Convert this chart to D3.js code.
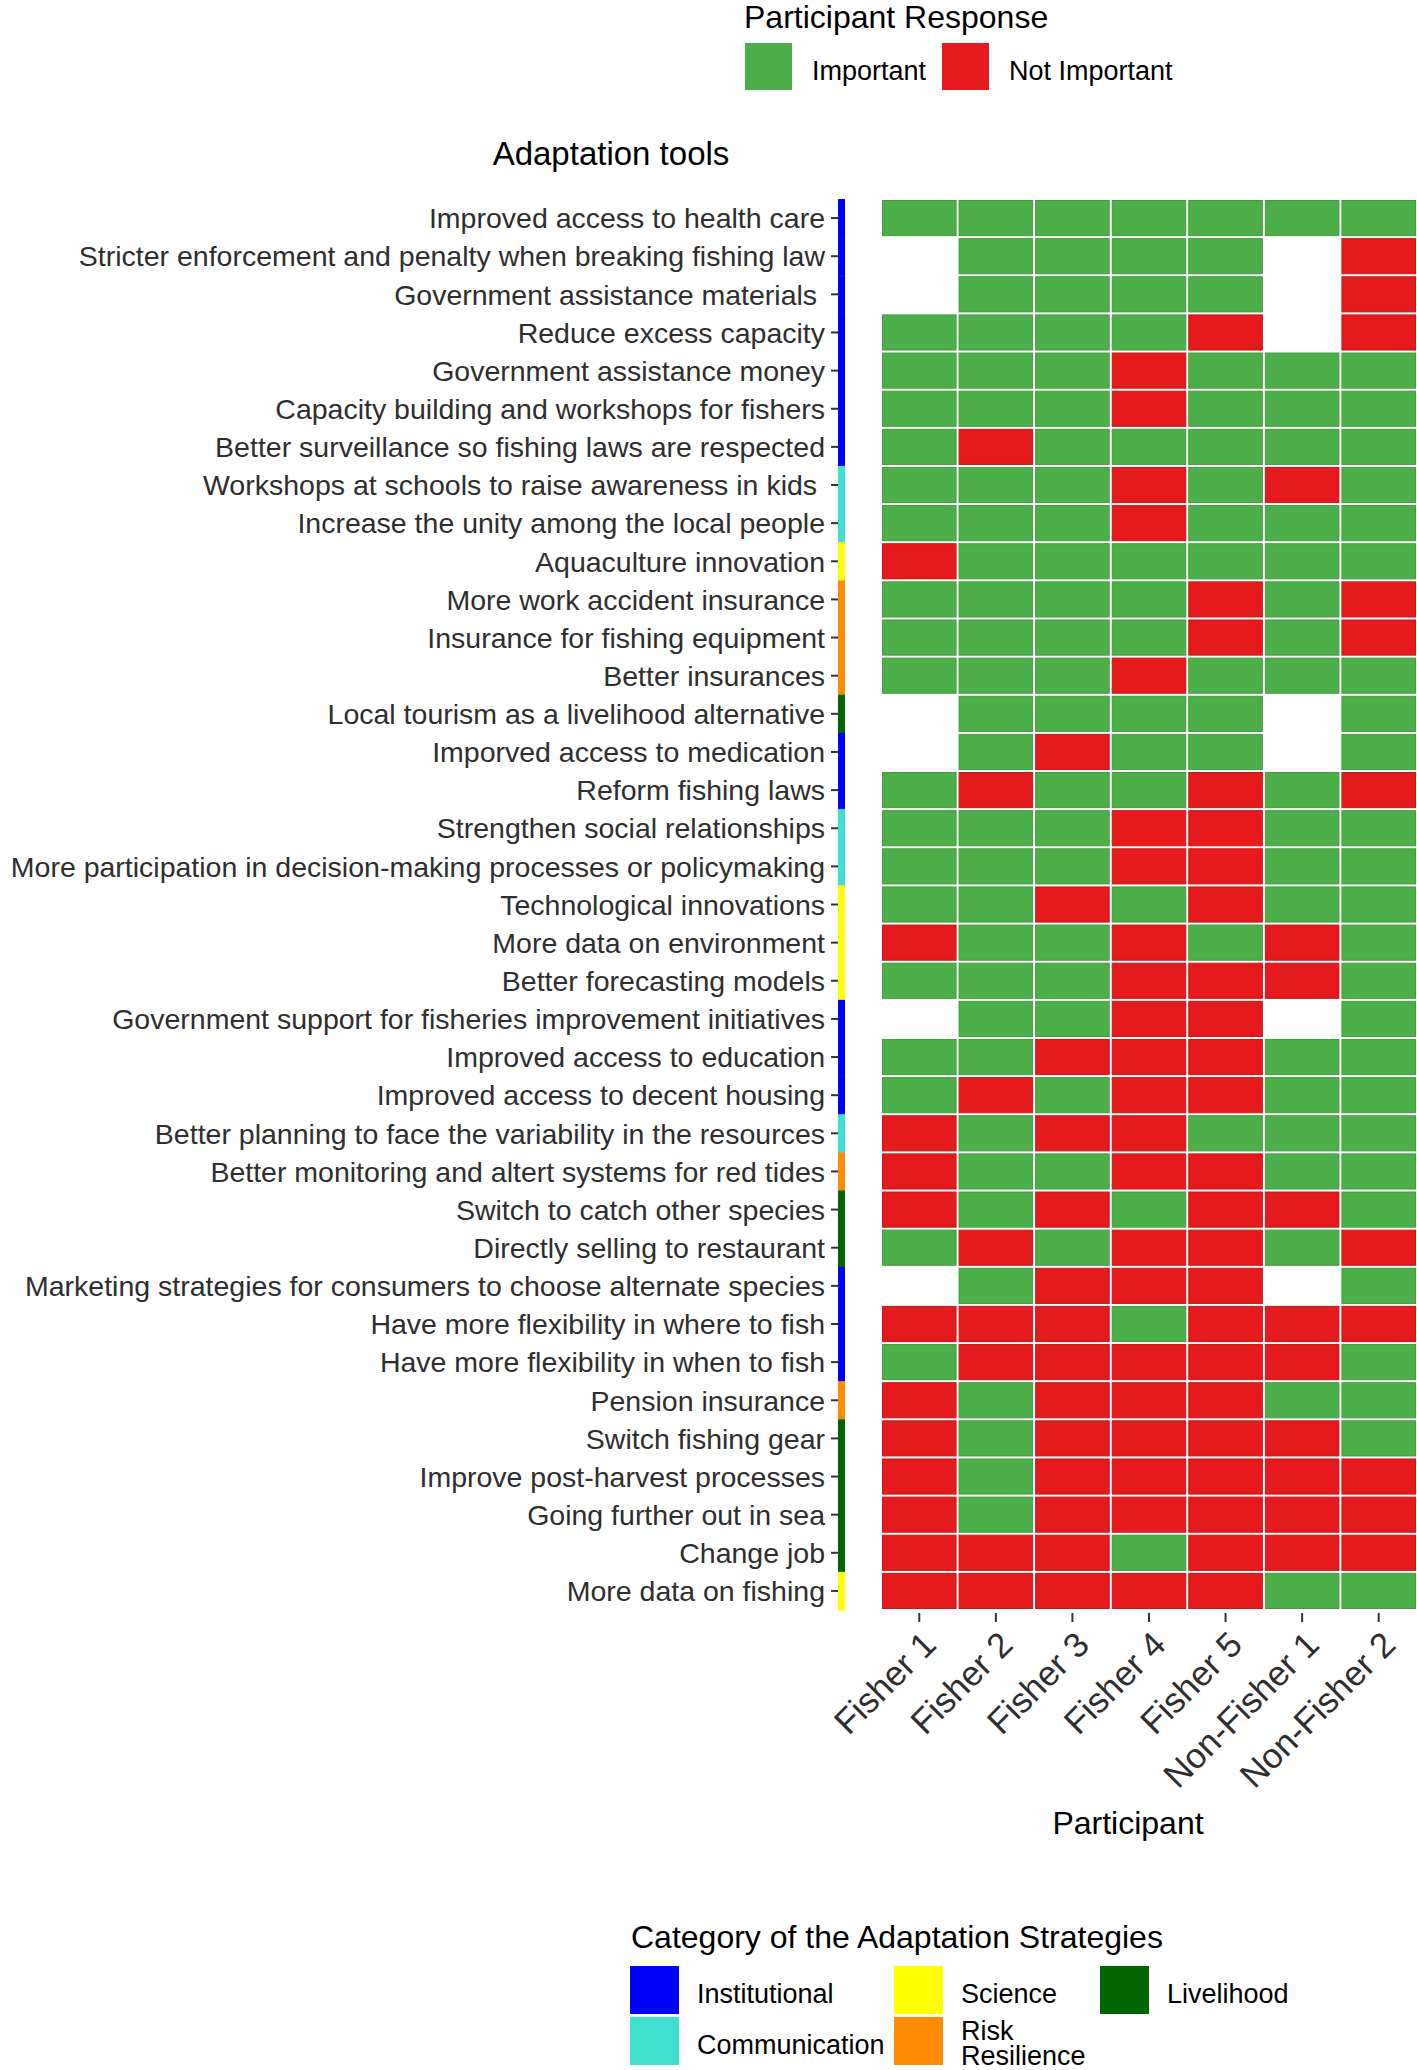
<!DOCTYPE html>
<html>
<head>
<meta charset="utf-8">
<script src="https://cdn.jsdelivr.net/npm/d3@7"></script>
<style>
  body { margin: 0; background: #fff; }
  svg { font-family: "Liberation Sans", Arial, sans-serif; }
</style>
</head>
<body>
<div id="chart"></div>
<script>
// participants (x axis)
const participants = ["Fisher 1", "Fisher 2", "Fisher 3", "Fisher 4", "Fisher 5", "Non-Fisher 1", "Non-Fisher 2"];

// adaptation tools (y axis, top to bottom)
const tools = [
    "Improved access to health care",
    "Stricter enforcement and penalty when breaking fishing law",
    "Government assistance materials ",
    "Reduce excess capacity",
    "Government assistance money",
    "Capacity building and workshops for fishers",
    "Better surveillance so fishing laws are respected",
    "Workshops at schools to raise awareness in kids ",
    "Increase the unity among the local people",
    "Aquaculture innovation",
    "More work accident insurance",
    "Insurance for fishing equipment",
    "Better insurances",
    "Local tourism as a livelihood alternative",
    "Imporved access to medication",
    "Reform fishing laws",
    "Strengthen social relationships",
    "More participation in decision-making processes or policymaking",
    "Technological innovations",
    "More data on environment",
    "Better forecasting models",
    "Government support for fisheries improvement initiatives",
    "Improved access to education",
    "Improved access to decent housing",
    "Better planning to face the variability in the resources",
    "Better monitoring and altert systems for red tides",
    "Switch to catch other species",
    "Directly selling to restaurant",
    "Marketing strategies for consumers to choose alternate species",
    "Have more flexibility in where to fish",
    "Have more flexibility in when to fish",
    "Pension insurance",
    "Switch fishing gear",
    "Improve post-harvest processes",
    "Going further out in sea",
    "Change job",
    "More data on fishing"
];

// category of each tool (same order as tools)
const toolCategory = [
    "Institutional", "Institutional", "Institutional", "Institutional", "Institutional", "Institutional", "Institutional",
    "Communication", "Communication",
    "Science",
    "Risk Resilience", "Risk Resilience", "Risk Resilience",
    "Livelihood",
    "Institutional", "Institutional",
    "Communication", "Communication",
    "Science", "Science", "Science",
    "Institutional", "Institutional", "Institutional",
    "Communication",
    "Risk Resilience",
    "Livelihood", "Livelihood",
    "Institutional", "Institutional", "Institutional",
    "Risk Resilience",
    "Livelihood", "Livelihood", "Livelihood", "Livelihood",
    "Science"
];

const categories = ["Institutional", "Communication", "Science", "Risk Resilience", "Livelihood"];
const categoryColors = ["#0000FF", "#40E0D0", "#FFFF00", "#FF8C00", "#006400"];

const responseLevels = ["Important", "Not Important"];
const responseColors = ["#4DAF4A", "#E41A1C"];

// I = Important, N = Not Important, null = no answer
const I = "Important", N = "Not Important", _ = null;
const responses = [
    [I, I, I, I, I, I, I],
    [_, I, I, I, I, _, N],
    [_, I, I, I, I, _, N],
    [I, I, I, I, N, _, N],
    [I, I, I, N, I, I, I],
    [I, I, I, N, I, I, I],
    [I, N, I, I, I, I, I],
    [I, I, I, N, I, N, I],
    [I, I, I, N, I, I, I],
    [N, I, I, I, I, I, I],
    [I, I, I, I, N, I, N],
    [I, I, I, I, N, I, N],
    [I, I, I, N, I, I, I],
    [_, I, I, I, I, _, I],
    [_, I, N, I, I, _, I],
    [I, N, I, I, N, I, N],
    [I, I, I, N, N, I, I],
    [I, I, I, N, N, I, I],
    [I, I, N, I, N, I, I],
    [N, I, I, N, I, N, I],
    [I, I, I, N, N, N, I],
    [_, I, I, N, N, _, I],
    [I, I, N, N, N, I, I],
    [I, N, I, N, N, I, I],
    [N, I, N, N, I, I, I],
    [N, I, I, N, N, I, I],
    [N, I, N, I, N, N, I],
    [I, N, I, N, N, I, N],
    [_, I, N, N, N, _, I],
    [N, N, N, I, N, N, N],
    [I, N, N, N, N, N, I],
    [N, I, N, N, N, I, I],
    [N, I, N, N, N, N, I],
    [N, I, N, N, N, N, N],
    [N, I, N, N, N, N, N],
    [N, N, N, I, N, N, N],
    [N, N, N, N, N, I, I]
];

function init() {
    const w = 1417;
    const h = 2070;

    const svg = d3.select("#chart")
        .append("svg")
        .attr("width", w)
        .attr("height", h);

    const xScale = d3.scaleBand()
        .domain(participants)
        .range([881, 1417]);

    const yScale = d3.scaleBand()
        .domain(tools)
        .range([199, 1610]);

    const fillScale = d3.scaleOrdinal()
        .domain(responseLevels)
        .range(responseColors);

    const catScale = d3.scaleOrdinal()
        .domain(categories)
        .range(categoryColors);

    // flatten into cells
    const cells = [];
    tools.forEach((t, i) => {
        participants.forEach((p, j) => {
            if (responses[i][j] !== null) {
                cells.push({ tool: t, participant: p, value: responses[i][j] });
            }
        });
    });

    // tiles
    const gap = 1.5;
    svg.append("g")
        .selectAll("rect")
        .data(cells)
        .enter()
        .append("rect")
        .attr("x", d => xScale(d.participant) + gap)
        .attr("y", d => yScale(d.tool) + gap)
        .attr("width", xScale.bandwidth() - 2 * gap)
        .attr("height", yScale.bandwidth() - 2 * gap)
        .attr("fill", d => fillScale(d.value))
        .attr("stroke", d => d3.color(fillScale(d.value)).darker(0.35))
        .attr("stroke-width", 1);

    // category strip along the y axis
    svg.append("g")
        .selectAll("rect")
        .data(tools)
        .enter()
        .append("rect")
        .attr("x", 838)
        .attr("y", d => yScale(d))
        .attr("width", 7)
        .attr("height", yScale.bandwidth() + 0.5)
        .attr("fill", (d, i) => catScale(toolCategory[i]));

    // y axis
    const yAxis = d3.axisLeft(yScale).tickSize(7).tickPadding(6);
    const gy = svg.append("g")
        .attr("transform", "translate(838,0)")
        .call(yAxis);
    gy.select(".domain").remove();
    gy.selectAll(".tick line").attr("stroke", "#333").attr("stroke-width", 2);
    gy.selectAll(".tick text")
        .attr("fill", "#2e2e2e")
        .attr("dy", "0.36em")
        .style("font-size", "28.5px")
        .style("font-family", "'Liberation Sans', Arial, sans-serif")
        .style("white-space", "pre");

    // x axis
    const xAxis = d3.axisBottom(xScale).tickSize(9).tickPadding(0);
    const gx = svg.append("g")
        .attr("transform", "translate(0,1613)")
        .call(xAxis);
    gx.select(".domain").remove();
    gx.selectAll(".tick line").attr("stroke", "#333").attr("stroke-width", 2);
    gx.selectAll(".tick text")
        .attr("fill", "#2e2e2e")
        .style("font-size", "35px")
        .style("font-family", "'Liberation Sans', Arial, sans-serif")
        .attr("text-anchor", "end")
        .attr("x", 0)
        .attr("y", 0)
        .attr("dy", "0.72em")
        .attr("transform", "translate(1,16) rotate(-45)");

    // axis titles
    svg.append("text")
        .attr("x", 611)
        .attr("y", 165)
        .attr("text-anchor", "middle")
        .style("font-size", "33px")
        .text("Adaptation tools");

    svg.append("text")
        .attr("x", 1128)
        .attr("y", 1834)
        .attr("text-anchor", "middle")
        .style("font-size", "32px")
        .text("Participant");

    // response legend (top)
    const legTop = svg.append("g");
    legTop.append("text")
        .attr("x", 744)
        .attr("y", 28)
        .style("font-size", "32px")
        .text("Participant Response");
    const respX = [745, 942];
    responseLevels.forEach((lvl, i) => {
        legTop.append("rect")
            .attr("x", respX[i])
            .attr("y", 43)
            .attr("width", 47)
            .attr("height", 47)
            .attr("fill", fillScale(lvl));
        legTop.append("text")
            .attr("x", respX[i] + 67)
            .attr("y", 80)
            .style("font-size", "27px")
            .text(lvl);
    });

    // category legend (bottom)
    const legBot = svg.append("g");
    legBot.append("text")
        .attr("x", 631)
        .attr("y", 1948)
        .style("font-size", "32px")
        .text("Category of the Adaptation Strategies");
    const colX = [630, 630, 894, 894, 1100];
    const rowY = [1966, 2017, 1966, 2017, 1966];
    categories.forEach((cat, i) => {
        legBot.append("rect")
            .attr("x", colX[i])
            .attr("y", rowY[i])
            .attr("width", 49)
            .attr("height", 48)
            .attr("fill", catScale(cat));
        const words = cat === "Risk Resilience" ? ["Risk", "Resilience"] : [cat];
        const t = legBot.append("text")
            .attr("x", colX[i] + 67)
            .attr("y", words.length > 1 ? rowY[i] + 23 : rowY[i] + 37)
            .style("font-size", "27px");
        words.forEach((wd, k) => {
            t.append("tspan")
                .attr("x", colX[i] + 67)
                .attr("dy", k === 0 ? 0 : 25)
                .text(wd);
        });
    });
}

window.onload = init;
</script>
</body>
</html>
